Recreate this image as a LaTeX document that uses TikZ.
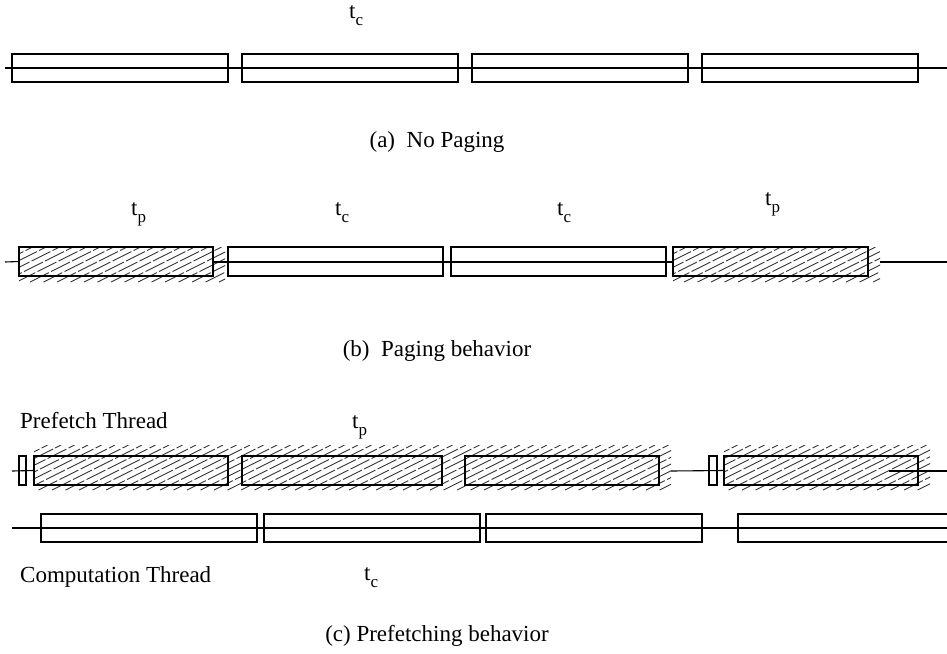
\documentclass[tikz,border=0pt]{standalone}
\usepackage{fontspec}
\setmainfont{Liberation Serif}
\newcommand\tsub[1]{t\raisebox{-0.34em}{\fontsize{17}{17}\selectfont #1}}
% slot box: name, left, top, right, bottom
\newcommand\slotbox[5]{%
  \node[slotbox, minimum width={#4-#2}, minimum height={#5-#3}] (#1) at (#2,#3) {};}
% diagonal dashed hatching clipped to a rectangle: left, top, right, bottom
\newcommand\hatcharea[4]{%
  \begin{scope}
    \clip (#1,#2) rectangle (#3,#4);
    \pgfmathsetmacro\hh{2*((#4)-(#2))}
    \pgfmathtruncatemacro\nn{((#3)-(#1)+\hh)/13.5}
    \foreach \k in {0,...,\nn}{
      \draw[hatchline] ({#1-\hh+13.5*\k},#4) -- ++(\hh,{-((#4)-(#2))});
    }
  \end{scope}}
\begin{document}
\begin{tikzpicture}[x=1pt,y=-1pt,
  slotbox/.style={draw, line width=1.1pt, inner sep=0pt, outer sep=0pt, anchor=north west},
  axis/.style={line width=1.1pt},
  hatchline/.style={line width=0.9pt, black!80, dash pattern=on 21pt off 2.5pt},
  lbl/.style={font=\fontsize{23}{27}\selectfont, inner sep=0pt},
]
\useasboundingbox (0,0) rectangle (947,653);

% ---------- (a) no paging ----------
\slotbox{a1}{12}{54}{228}{82}
\slotbox{a2}{242}{54}{458}{82}
\slotbox{a3}{472}{54}{688}{82}
\slotbox{a4}{702}{54}{918}{82}
\coordinate (aL) at (5,68);
\coordinate (aR) at (947,68);
\draw[axis] (aL) -- (aR);
\node[lbl, anchor=base west] (tca) at (349,18) {\tsub{c}};
\node[lbl] (capa) at (437,142) {(a)\ \ No Paging};

% ---------- (b) paging behavior ----------
\hatcharea{19}{247}{225}{282}
\hatcharea{673}{247}{880}{282}
\slotbox{b1}{19}{247}{213}{276}
\slotbox{b2}{228}{247}{443}{276}
\slotbox{b3}{451}{247}{666}{276}
\slotbox{b4}{673}{247}{868}{276}
\coordinate (bL) at (5,262);
\coordinate (bM) at (213,262);
\coordinate (bN) at (673,262);
\coordinate (bS) at (880,262);
\coordinate (bR) at (947,262);
\draw[axis] (bL) -- (b1.west);
\draw[axis] (bM) -- (bN);
\draw[axis] (bS) -- (bR);
\node[lbl, anchor=base west] (tpb1) at (131,215) {\tsub{p}};
\node[lbl, anchor=base west] (tcb2) at (335,215) {\tsub{c}};
\node[lbl, anchor=base west] (tcb3) at (557,215) {\tsub{c}};
\node[lbl, anchor=base west] (tpb4) at (765,205) {\tsub{p}};
\node[lbl] (capb) at (437,351) {(b)\ \ Paging behavior};

% ---------- (c) prefetching behavior ----------
\node[lbl, anchor=west] (pth) at (20,421) {Prefetch Thread};
\node[lbl, anchor=base west] (tpc) at (352,428) {\tsub{p}};

\hatcharea{34}{445}{671}{490}
\hatcharea{724}{445}{930}{490}
\slotbox{s1}{19}{456}{26}{485}
\slotbox{p1}{34}{456}{228}{485}
\slotbox{p2}{242}{456}{442}{485}
\slotbox{p3}{465}{456}{659}{485}
\slotbox{s2}{709}{456}{717}{485}
\slotbox{p4}{724}{456}{918}{485}
\coordinate (pL) at (12,471);
\coordinate (pM) at (671,471);
\coordinate (pS) at (889,471);
\coordinate (pR) at (947,471);
\draw[axis] (pL) -- (p1.west);
\draw[axis] (pM) -- (p4.west);
\draw[axis] (pS) -- (pR);

\slotbox{c1}{41}{514}{257}{542}
\slotbox{c2}{264}{514}{480}{542}
\slotbox{c3}{486}{514}{702}{542}
\slotbox{c4}{738}{514}{960}{542}
\coordinate (cL) at (12,528);
\coordinate (cR) at (947,528);
\draw[axis] (cL) -- (cR);

\node[lbl, anchor=west] (cth) at (20,577) {Computation Thread};
\node[lbl, anchor=base west] (tcc) at (364,580) {\tsub{c}};
\node[lbl] (capc) at (437,636) {(c) Prefetching behavior};
\end{tikzpicture}
\end{document}
